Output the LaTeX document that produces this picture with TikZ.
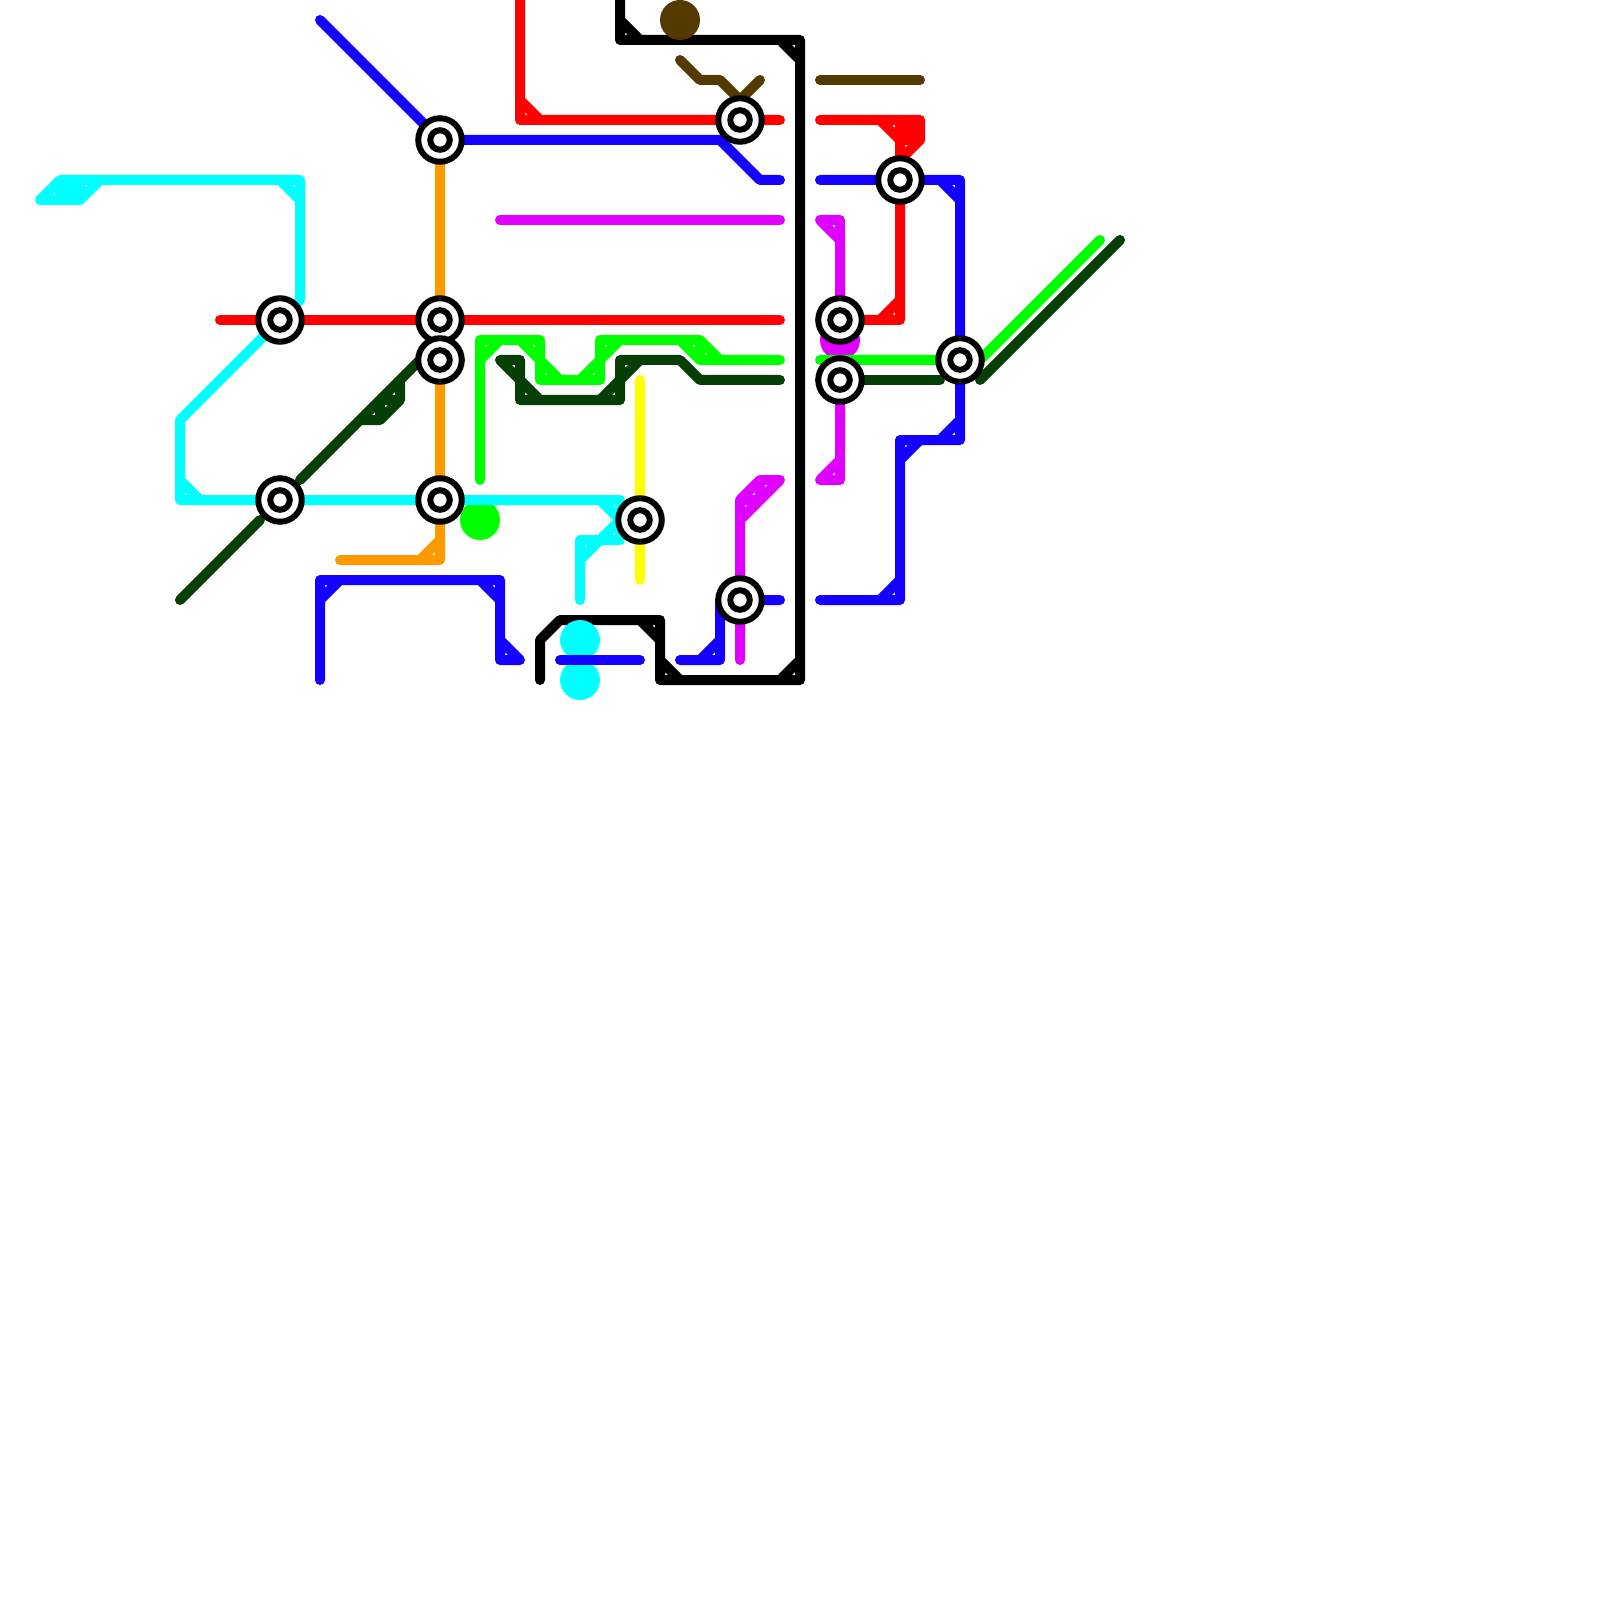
\documentclass[tikz,border=0pt]{standalone}
\definecolor{rosso}{HTML}{FF0000}
\definecolor{blu}{HTML}{1400FF}
\definecolor{ciano}{HTML}{00FFFF}
\definecolor{viola}{HTML}{E000FF}
\definecolor{verde}{HTML}{00FF00}
\definecolor{bosco}{HTML}{063F06}
\definecolor{arancio}{HTML}{FF9900}
\definecolor{giallo}{HTML}{FFFF00}
\definecolor{marrone}{HTML}{553A00}
\tikzset{
  linea/.style={line width=1mm, line cap=round, line join=round},
  fermata/.style={circle, draw=black, fill=white, line width=0.6mm, inner sep=0pt, outer sep=0pt, minimum size=4.35mm},
  occhio/.style={circle, draw=black, fill=white, line width=0.6mm, inner sep=0pt, outer sep=0pt, minimum size=1.95mm},
  disco/.style={circle, inner sep=0pt, outer sep=0pt, minimum size=4mm}
}
\begin{document}
\begin{tikzpicture}[x=2mm, y=-2mm]
    \useasboundingbox (0,0) rectangle (80,80);
    % griglia delle fermate
    \foreach \n/\x/\y in {a/22/7, b/14/16, c/22/16, d/22/18, e/14/25, f/22/25, g/32/26,
                          h/37/6, i/37/30, j/42/16, k/42/19, l/45/9, m/48/18} {
      \coordinate (\n) at (\x,\y);
    }
    % nero
    \draw[linea, black] (31,0) -- (31,2) -- (40,2) -- (40,34) -- (33,34) -- (33,31) -- (28,31) -- (27,32) -- (27,34)
      (31,1) -- (32,2) (39,2) -- (40,3) (39,34) -- (40,33) (32,31) -- (33,32) (33,33) -- (34,34);
    % marrone
    \node[disco, fill=marrone] (dm) at (34,1) {};
    \draw[linea, marrone] (34,3) -- (35,4) -- (36,4) -- (37,5) -- (38,4);
    \draw[linea, marrone] (41,4) -- (46,4);
    % viola
    \node[disco, fill=viola] (dv) at (42,17) {};
    \draw[linea, viola] (25,11) -- (39,11);
    \draw[linea, viola] (41,11) -- (42,11) -- (j) -- (k) -- (42,24) -- (41,24)
      (41,11) -- (42,12) (41,24) -- (42,23);
    \draw[linea, viola] (39,24) -- (38,24) -- (37,25) -- (i) -- (37,33)
      (39,24) -- (37,26) (38,24) -- (38,25) -- (37,25);
    % verde
    \node[disco, fill=verde] (dg) at (24,26) {};
    \draw[linea, verde] (24,24) -- (24,17) -- (27,17) -- (27,19) -- (30,19) -- (30,17) -- (35,17) -- (36,18) -- (39,18)
      (24,18) -- (25,17) (26,17) -- (27,18) -- (28,19) (29,19) -- (31,17) (34,17) -- (35,18) -- (39,18) (35,17) -- (35,18);
    \draw[linea, verde] (41,18) -- (49,18) -- (55,12);
    % ciano
    \draw[linea, ciano] (2,10) -- (3,9) -- (15,9) -- (15,15) -- (b) -- (9,21) -- (9,25) -- (31,25) -- (31,27) -- (29,27) -- (29,30)
      (2,10) -- (4,10) -- (5,9) (3,10) -- (3,9) (4,10) -- (4,9) (3,10) -- (4,9) (3,9) -- (4,10)
      (14,9) -- (15,10) (9,24) -- (10,25) (30,25) -- (31,26) -- (29,28);
    \node[disco, fill=ciano] (dc1) at (29,32) {};
    \node[disco, fill=ciano] (dc2) at (29,34) {};
    % blu
    \draw[linea, blu] (16,1) -- (a) -- (36,7) -- (38,9) -- (39,9);
    \draw[linea, blu] (41,9) -- (48,9) -- (48,22) -- (45,22) -- (45,30) -- (41,30)
      (47,9) -- (48,10) (47,22) -- (48,21) (46,22) -- (45,23) (44,30) -- (45,29);
    \draw[linea, blu] (39,30) -- (36,30) -- (36,33) -- (34,33) (35,33) -- (36,32);
    \draw[linea, blu] (28,33) -- (32,33);
    \draw[linea, blu] (16,34) -- (16,29) -- (25,29) -- (25,33) -- (26,33)
      (16,30) -- (17,29) (24,29) -- (25,30) (25,32) -- (26,33);
    % arancio
    \draw[linea, arancio] (a) -- (22,28) -- (17,28) (22,27) -- (21,28);
    % giallo
    \draw[linea, giallo] (32,19) -- (32,29);
    % rosso
    \draw[linea, rosso] (26,0) -- (26,6) -- (39,6) (26,5) -- (27,6);
    \draw[linea, rosso] (11,16) -- (39,16);
    \draw[linea, rosso] (41,6) -- (46,6) -- (46,7) -- (45,8) (44,6) -- (45,7) -- (46,6) (45,6) -- (46,7) -- (45,7)
      (45,6) -- (45,16) -- (41,16) (45,15) -- (44,16);
    % bosco
    \draw[linea, bosco] (25,18) -- (26,18) -- (26,20) -- (31,20) -- (31,18) -- (34,18) -- (35,19) -- (39,19)
      (25,18) -- (27,20) (30,20) -- (32,18);
    \draw[linea, bosco] (9,30) -- (13,26);
    \draw[linea, bosco] (15,24) -- (21,18) -- (23,18)
      (18,21) -- (19,21) -- (20,20) -- (20,19) (19,20) -- (19,21) (19,20) -- (20,20);
    \draw[linea, bosco] (41,19) -- (47,19);
    \draw[linea, bosco] (49,19) -- (56,12);
    % fermate
    \foreach \n in {a,b,c,d,e,f,g,h,i,j,k,l,m} {
      \node[fermata] (s\n) at (\n) {};
      \node[occhio] (o\n) at (\n) {};
    }
\end{tikzpicture}
\end{document}
